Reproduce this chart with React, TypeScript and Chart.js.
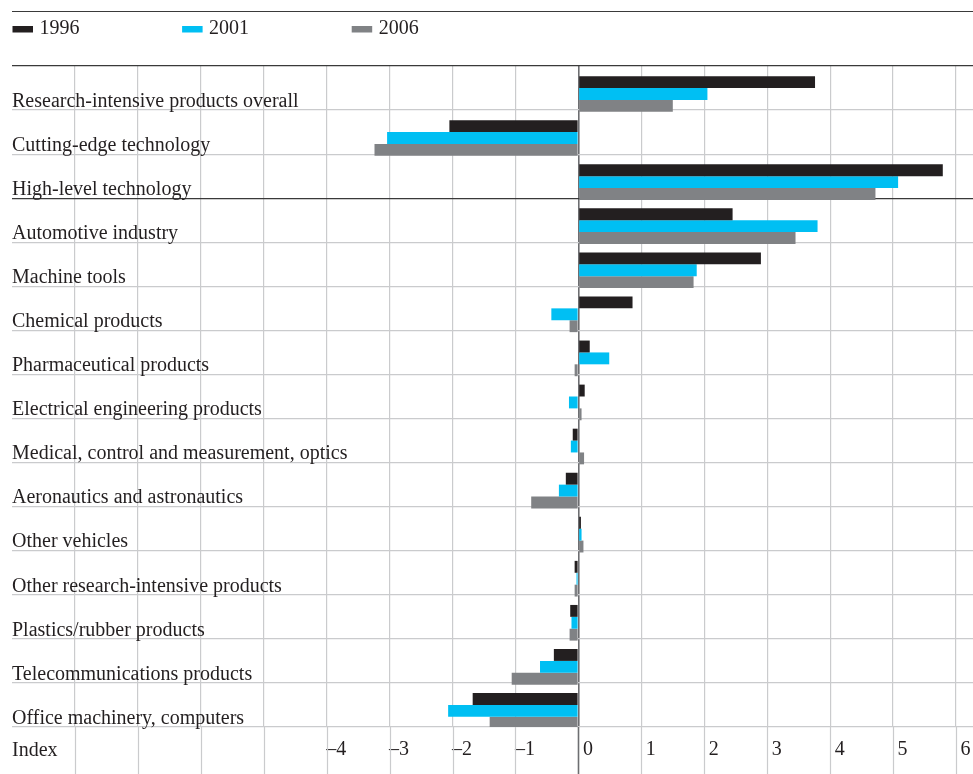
import React, { useEffect, useRef } from "react";
import { Chart, registerables } from "chart.js";

Chart.register(...registerables);

const CATEGORIES: string[] = [
  "Research-intensive products overall",
  "Cutting-edge technology",
  "High-level technology",
  "Automotive industry",
  "Machine tools",
  "Chemical products",
  "Pharmaceutical products",
  "Electrical engineering products",
  "Medical, control and measurement, optics",
  "Aeronautics and astronautics",
  "Other vehicles",
  "Other research-intensive products",
  "Plastics/rubber products",
  "Telecommunications products",
  "Office machinery, computers",
];

const SERIES_NAMES: string[] = ["1996", "2001", "2006"];

const VALUES_1996: number[] = [3.76, -2.05, 5.79, 2.45, 2.9, 0.86, 0.18, 0.1, -0.09, -0.2, 0.04, -0.06, -0.13, -0.39, -1.68];
const VALUES_2001: number[] = [2.05, -3.04, 5.08, 3.8, 1.88, -0.43, 0.49, -0.15, -0.12, -0.31, 0.05, -0.03, -0.11, -0.61, -2.07];
const VALUES_2006: number[] = [1.5, -3.24, 4.72, 3.45, 1.83, -0.14, -0.06, 0.05, 0.09, -0.75, 0.08, -0.06, -0.14, -1.06, -1.41];

const X_TICK_LABELED: number[] = [-4, -3, -2, -1, 0, 1, 2, 3, 4, 5, 6];
const X_MIN = -9;
const X_MAX = 6.27;
const AXIS_TITLE = "Index";

const COLORS = ["#231f20", "#00bff3", "#808285"];
const TEXT = "#231f20";
const DARK_LINE = "#3a3a3a";
const ZERO_LINE = "#6d6e71";
const GRID = "#cacbcd";
const FONT_FAMILY = '"Liberation Serif", "Times New Roman", serif';

const gridColor = (v: number) => (v === 0 ? ZERO_LINE : v === X_MIN ? "rgba(0,0,0,0)" : GRID);
const gridWidth = (v: number) => (v === 0 ? 1.6 : 1.2);

const decorPlugin = {
  id: "decor",
  beforeDatasetsDraw(chart: any) {
    // extend vertical grid lines through the tick-label row
    const ctx = chart.ctx;
    const area = chart.chartArea;
    const xs = chart.scales.x;
    ctx.save();
    xs.ticks.forEach((t: any) => {
      const px = Math.round(xs.getPixelForValue(t.value)) + 0.5;
      ctx.strokeStyle = gridColor(t.value);
      ctx.lineWidth = gridWidth(t.value);
      ctx.beginPath();
      ctx.moveTo(px, area.bottom);
      ctx.lineTo(px, chart.height);
      ctx.stroke();
    });
    ctx.restore();
  },
  afterDraw(chart: any) {
    const ctx = chart.ctx;
    const area = chart.chartArea;
    ctx.save();
    // top rule
    ctx.strokeStyle = DARK_LINE;
    ctx.lineWidth = 1.2;
    ctx.beginPath();
    ctx.moveTo(area.left, 11.5);
    ctx.lineTo(chart.width, 11.5);
    ctx.stroke();
    // legend items
    ctx.font = "20px " + FONT_FAMILY;
    ctx.textBaseline = "alphabetic";
    ctx.textAlign = "left";
    const items = chart.data.datasets.filter((d: any) => d.label);
    items.forEach((ds: any, i: number) => {
      const x = 12.5 + i * 169.6;
      ctx.fillStyle = ds.backgroundColor;
      ctx.fillRect(x, 26, 20.5, 6.5);
      ctx.fillStyle = TEXT;
      ctx.fillText(ds.label, x + 27, 34);
    });
    // axis caption at the left of the tick-label row
    ctx.textBaseline = "middle";
    ctx.fillText(AXIS_TITLE, area.left, area.bottom + 23.5);
    ctx.restore();
  },
};

export default function App() {
  const canvasRef = useRef<HTMLCanvasElement | null>(null);

  useEffect(() => {
    if (!canvasRef.current) return;
    const seriesValues = [VALUES_1996, VALUES_2001, VALUES_2006];
    const chart = new Chart(canvasRef.current, {
      type: "bar",
      data: {
        labels: CATEGORIES,
        datasets: [
          {
            label: "",
            data: CATEGORIES.map(() => null),
            backgroundColor: "rgba(0,0,0,0)",
          } as any,
          ...SERIES_NAMES.map((name, i) => ({
            label: name,
            data: seriesValues[i],
            backgroundColor: COLORS[i],
            borderWidth: 0,
          })),
        ],
      },
      options: {
        indexAxis: "y",
        animation: false,
        responsive: false,
        events: [],
        categoryPercentage: 1.079,
        barPercentage: 1,
        layout: { padding: { top: 66, left: 12, right: 0, bottom: 1 } },
        plugins: {
          legend: { display: false },
          tooltip: { enabled: false },
          title: { display: false },
        },
        scales: {
          x: {
            type: "linear",
            position: "bottom",
            min: X_MIN,
            max: X_MAX,
            border: { display: false },
            grid: {
              drawTicks: false,
              color: (c: any) => gridColor(c.tick ? c.tick.value : NaN),
              lineWidth: (c: any) => gridWidth(c.tick ? c.tick.value : NaN),
            },
            ticks: {
              stepSize: 1,
              includeBounds: false,
              autoSkip: false,
              maxRotation: 0,
              minRotation: 0,
              padding: 11,
              labelOffset: 9.5,
              color: TEXT,
              font: { family: FONT_FAMILY, size: 20 },
              callback: (v: any) => {
                const n = Number(v);
                if (!X_TICK_LABELED.includes(n)) return "";
                return n < 0 ? "\u2013" + Math.abs(n) : String(n);
              },
            },
          },
          y: {
            type: "category",
            position: "left",
            offset: true,
            border: { display: false },
            grid: {
              offset: true,
              drawTicks: false,
              color: (c: any) => (c.index === 0 || c.index === 3 ? DARK_LINE : GRID),
              lineWidth: 1.2,
            },
            ticks: {
              mirror: true,
              padding: 0,
              labelOffset: 13.5,
              autoSkip: false,
              crossAlign: "near",
              color: TEXT,
              font: { family: FONT_FAMILY, size: 20 },
            },
          },
        },
      },
      plugins: [decorPlugin],
    } as any);
    return () => chart.destroy();
  }, []);

  return (
    <div style={{ position: "absolute", left: 0, top: 0, width: 973, height: 774, background: "#fff" }}>
      <canvas ref={canvasRef} width={973} height={774} style={{ display: "block" }} />
    </div>
  );
}
